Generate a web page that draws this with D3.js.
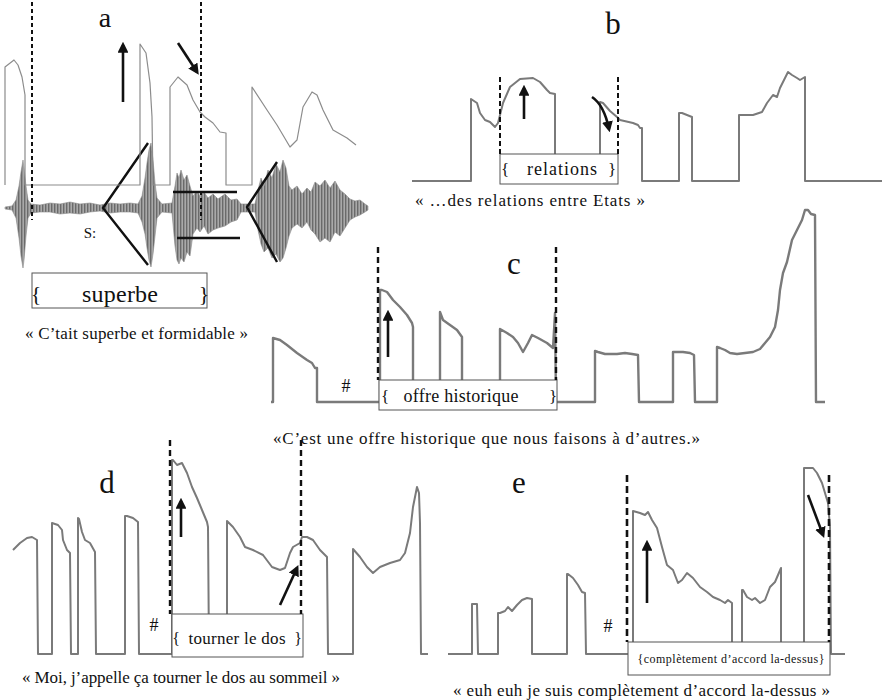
<!DOCTYPE html>
<html>
<head>
<meta charset="utf-8">
<script src="https://cdn.jsdelivr.net/npm/d3@7"></script>
<style>
  body { margin: 0; background: #fff; }
</style>
</head>
<body>
<div id="fig"></div>
<script>
// pitch contours, [time, F0 above floor] in panel units; F0 = 0 is the unvoiced floor
const contourA = [[5,0],[5,118],[14,125],[18,120],[22,108],[25,90],[25,0],
  [140,0],[140,141],[146,132],[150,102],[152,68],[153,0],
  [170,0],[170,98],[178,108],[187,100],[193,85],[200,73],[205,68],[213,62],[220,53],[226,52],[226,0],
  [252,0],[252,98],[267,75],[277,60],[290,38],[297,45],[303,78],[312,93],[317,90],[323,75],[333,55],[347,47],[356,40]];

const contourB = [[12,0],[71,0],[71,82],[77,78],[80,68],[85,61],[90,59],[95,54],[98,58],[103,78],[110,94],[120,102],[133,103],[140,99],[147,91],[150,88],[155,87],[155,0],
  [200,0],[200,79],[203,78],[210,70],[217,64],[220,61],[233,58],[238,56],[240,53],[242,53],[242,0],
  [279,0],[279,68],[282,68],[287,66],[292,64],[292,0],
  [339,0],[339,66],[343,66],[353,66],[362,69],[367,78],[373,86],[377,84],[380,93],[385,103],[388,109],[392,106],[397,103],[400,101],[405,104],[405,0],
  [482,0]];

const contourC = [[11,0],[13,0],[13,64],[20,62],[27,57],[37,49],[47,42],[52,39],[55,34],[57,34],[57,0],
  [120,0],[120,112],[122,112],[127,110],[133,102],[140,95],[147,87],[152,79],[153,75],[153,0],
  [180,0],[180,90],[183,82],[190,77],[197,72],[202,65],[202,0],
  [240,0],[240,73],[247,69],[253,65],[258,59],[263,50],[268,59],[272,67],[278,64],[287,59],[293,54],[295,89],[296,0],
  [335,0],[335,51],[338,50],[345,48],[357,48],[365,49],[372,48],[378,47],[379,0],
  [413,0],[413,50],[415,50],[423,50],[430,49],[434,47],[435,0],
  [457,0],[457,55],[460,54],[465,52],[470,49],[477,48],[485,49],[493,50],[500,53],[505,59],[510,65],[515,75],[518,92],[520,112],[523,129],[527,140],[532,162],[537,172],[542,182],[545,192],[548,192],[551,188],[555,187],[556,0],[565,0]];

const contourD = [[13,104],[20,111],[27,116],[32,117],[37,114],[38,0],
  [52,0],[52,131],[58,129],[62,124],[63,114],[67,104],[70,101],[71,0],
  [78,0],[78,136],[79,135],[82,122],[85,114],[90,111],[95,102],[96,0],
  [125,0],[125,138],[127,138],[133,136],[138,132],[139,0],
  [172,0],[172,194],[173,194],[177,189],[182,191],[187,181],[192,167],[197,156],[202,144],[207,132],[208,127],[209,0],
  [227,0],[227,133],[233,127],[240,117],[245,107],[253,104],[263,99],[272,87],[280,84],[285,86],[290,101],[293,107],[300,111],[302,117],[307,117],[313,114],[320,104],[327,97],[328,0],
  [353,0],[353,105],[360,97],[367,87],[373,81],[380,87],[390,91],[400,94],[405,101],[410,121],[413,147],[417,167],[419,161],[420,131],[421,0],[428,0]];

const contourE = [[8,0],[32,0],[32,50],[37,50],[38,0],
  [58,0],[58,41],[60,41],[65,43],[68,47],[72,43],[77,49],[82,54],[87,56],[92,55],[92,0],
  [127,0],[127,80],[128,80],[133,76],[138,69],[142,62],[145,61],[146,0],
  [193,0],[193,143],[200,141],[205,139],[208,142],[212,134],[217,126],[222,107],[227,89],[233,84],[238,71],[242,74],[247,81],[253,76],[260,67],[267,62],[273,57],[280,54],[285,51],[288,54],[292,51],[292,0],
  [302,0],[302,64],[303,64],[307,57],[312,54],[315,56],[320,51],[325,54],[330,67],[335,72],[338,79],[341,86],[341,0],
  [364,0],[364,186],[365,186],[373,186],[377,181],[382,171],[385,161],[388,151],[390,127],[391,0],[405,0]];

// oscillogram envelope for panel a: [time, upper amplitude, lower amplitude]
const waveA = [[5,1,1],[12,2,2],[16,8,10],[19,22,30],[21,36,48],[23,48,60],[24,40,52],[26,22,28],[28,8,10],[31,4,5],
  [40,3,4],[50,5,4],[60,4,6],[70,6,5],[80,4,6],[90,5,4],[100,3,3],[110,5,5],[120,4,4],[130,5,4],[138,4,5],
  [142,12,14],[145,30,26],[147,45,40],[149,58,52],[151,65,59],[153,48,46],[155,25,28],[157,10,10],[162,4,4],[172,5,5],
  [175,22,38],[177,35,52],[179,30,56],[181,38,50],[184,28,54],[187,33,44],[190,22,48],[193,12,26],[197,17,20],[200,12,24],
  [204,16,18],[208,10,26],[213,14,22],[218,9,20],[225,14,18],[231,8,14],[237,9,12],[241,4,4],[255,4,4],
  [258,18,22],[261,30,36],[264,22,44],[268,38,40],[272,30,50],[276,44,46],[280,36,54],[283,48,50],[286,40,40],[289,22,28],
  [292,18,20],[297,22,16],[302,14,20],[307,20,14],[311,16,22],[315,26,26],[320,22,34],[325,28,30],[330,20,34],[335,27,24],
  [340,18,28],[345,14,20],[350,9,12],[355,7,9],[360,8,7],[365,4,4],[368,2,2]];

// unit boundaries (times) marked by dashed lines
const boundsA = [32, 201];
const boundsB = [100, 218];
const boundsC = [118, 296];
const boundsD = [170, 301];
const boundsE = [187, 389];

// arrows: [t1, f1, t2, f2] or curved [t1, f1, tc, fc, t2, f2]
const arrowsA = [[123,83,123,140],[178,142,197,113]];
const arrowsB = [[124,62,124,93],[192,84,204,76,209,52]];
const arrowsC = [[128,45,128,89]];
const arrowsD = [[181,117,181,153],[280,49,297,86]];
const arrowsE = [[207,51,207,111],[368,159,383,119]];

// lines marking the oscillogram in panel a: [t1, a1, t2, a2, ...] in amplitude units
const marksA = [[148,65,103,0,148,-57],[277,46,247,1,277,-54],[173,16,237,16],[177,-30,240,-30]];

const captions = [
  '« C’tait superbe et formidable »',
  '« …des relations entre Etats »',
  '«C’est une offre historique que nous faisons à d’autres.»',
  '« Moi, j’appelle ça tourner le dos au sommeil »',
  '« euh euh je suis complètement d’accord la-dessus »'
];
const boxTexts = ['superbe', 'relations', 'offre historique', 'tourner le dos', '{complètement d’accord la-dessus}'];
const letters = ['a', 'b', 'c', 'd', 'e'];

const width = 882, height = 700;
const serif = 'Liberation Serif';

const svg = d3.select('#fig').append('svg')
  .attr('width', width)
  .attr('height', height)
  .attr('font-family', serif);

const defs = svg.append('defs');

defs.append('marker')
  .attr('id', 'head')
  .attr('viewBox', '0 0 10 10')
  .attr('refX', 7)
  .attr('refY', 5)
  .attr('markerWidth', 4.2)
  .attr('markerHeight', 4.2)
  .attr('orient', 'auto')
  .append('path')
  .attr('d', 'M0,0 L10,5 L0,10 Z')
  .attr('fill', '#111');

// striped fill so the envelope reads like an oscillogram
const pat = defs.append('pattern')
  .attr('id', 'osc')
  .attr('patternUnits', 'userSpaceOnUse')
  .attr('width', 3)
  .attr('height', 4);
pat.append('rect').attr('width', 3).attr('height', 4).attr('fill', '#a9a9a9');
pat.append('rect').attr('width', 1.4).attr('height', 4).attr('fill', '#6a6a6a');

function addText(g, x, y, size, str, anchor, len) {
  const t = g.append('text')
    .attr('x', x).attr('y', y)
    .attr('text-anchor', anchor || 'start')
    .attr('font-size', size)
    .attr('font-family', serif)
    .attr('fill', '#111')
    .text(str);
  if (len) t.attr('textLength', len).attr('lengthAdjust', 'spacing');
  return t;
}

function drawPanel(L, contour, bounds, arrows, i) {
  const x = d3.scaleLinear().domain([0, 100]).range([L.x0, L.x0 + 100]);
  const y = d3.scaleLinear().domain([0, 100]).range([L.base, L.base - 100]);
  const g = svg.append('g');

  const line = d3.line().x(d => x(d[0])).y(d => y(d[1]));

  //contour
  g.append('path')
    .datum(contour)
    .attr('d', line)
    .attr('fill', 'none')
    .attr('stroke', L.stroke)
    .attr('stroke-width', L.sw)
    .attr('stroke-linejoin', 'round');

  //label box
  g.append('rect')
    .attr('x', L.box[0]).attr('y', L.box[1])
    .attr('width', L.box[2]).attr('height', L.box[3])
    .attr('fill', '#fff')
    .attr('stroke', '#555')
    .attr('stroke-width', 1);

  addText(g, L.boxText[0], L.boxText[1], L.boxText[2], boxTexts[i], 'middle', L.boxText[3]);

  if (L.braces) {
    L.braces.forEach((b, k) => addText(g, b[0], b[1], b[2], k === 0 ? '{' : '}', 'middle'));
  }

  //dashed boundaries
  bounds.forEach(t => {
    g.append('line')
      .attr('x1', x(t)).attr('x2', x(t))
      .attr('y1', L.dash[0]).attr('y2', L.dash[1])
      .attr('stroke', '#111')
      .attr('stroke-width', L.dw)
      .attr('stroke-dasharray', L.dashArray);
  });

  //arrows
  arrows.forEach(a => {
    let d;
    if (a.length === 4) {
      d = 'M' + x(a[0]) + ',' + y(a[1]) + 'L' + x(a[2]) + ',' + y(a[3]);
    } else {
      d = 'M' + x(a[0]) + ',' + y(a[1]) + 'Q' + x(a[2]) + ',' + y(a[3]) + ' ' + x(a[4]) + ',' + y(a[5]);
    }
    g.append('path')
      .attr('d', d)
      .attr('fill', 'none')
      .attr('stroke', '#111')
      .attr('stroke-width', 2.6)
      .attr('marker-end', 'url(#head)');
  });

  if (L.hash) addText(g, L.hash[0], L.hash[1], 18, '#', 'middle');

  addText(g, L.letter[0], L.letter[1], L.letter[2], letters[i], 'middle');
  addText(g, L.caption[0], L.caption[1], 17, captions[i], 'start', L.caption[2]);

  return g;
}

const layoutA = { x0: 0, base: 185, stroke: '#8c8c8c', sw: 1.2, box: [32, 273, 175, 35], boxText: [120, 302, 24, 76],
  braces: [[36, 301, 22], [204, 301, 22]], dash: [2, 220], dw: 2, dashArray: '4,3', letter: [105, 27, 28], caption: [25, 339, 223] };
const layoutB = { x0: 400, base: 181, stroke: '#7a7a7a', sw: 2, box: [500, 154, 118, 30], boxText: [562, 175, 18, 70],
  braces: [[505, 175, 17], [612, 175, 17]], dash: [77, 154], dw: 2, dashArray: '5,3', letter: [613, 34, 31], caption: [415, 206, 230] };
const layoutC = { x0: 260, base: 402, stroke: '#7a7a7a', sw: 2.4, box: [379, 380, 178, 30], boxText: [461, 402, 18, 115],
  braces: [[385, 402, 17], [553, 402, 17]], dash: [247, 380], dw: 2.4, dashArray: '6,4', letter: [514, 274, 31], caption: [273, 444, 427], hash: [346, 392] };
const layoutD = { x0: 0, base: 654, stroke: '#7a7a7a', sw: 2, box: [172, 614, 131, 43], boxText: [237, 644, 17, 97],
  braces: [[176, 644, 16], [298, 644, 16]], dash: [440, 614], dw: 2.4, dashArray: '6,4', letter: [107, 493, 31], caption: [22, 683, 318], hash: [154, 631] };
const layoutE = { x0: 440, base: 654, stroke: '#7a7a7a', sw: 2, box: [628, 642, 202, 33], boxText: [731, 663, 12, 187],
  dash: [475, 642], dw: 2.6, dashArray: '7,4', letter: [519, 493, 31], caption: [453, 696, 377], hash: [608, 632] };

// panel a: oscillogram first, under the contour
const xa = d3.scaleLinear().domain([0, 100]).range([0, 100]);
const wa = d3.scaleLinear().domain([-100, 100]).range([308, 108]);

svg.append('path')
  .datum(waveA)
  .attr('d', d3.area().x(d => xa(d[0])).y0(d => wa(-d[2])).y1(d => wa(d[1])))
  .attr('fill', 'url(#osc)')
  .attr('stroke', '#8a8a8a')
  .attr('stroke-width', 0.6);

marksA.forEach(m => {
  const pts = d3.range(0, m.length, 2).map(k => [m[k], m[k + 1]]);
  svg.append('path')
    .datum(pts)
    .attr('d', d3.line().x(d => xa(d[0])).y(d => wa(d[1])))
    .attr('fill', 'none')
    .attr('stroke', '#111')
    .attr('stroke-width', 2.4);
});

addText(svg, 90, 238, 15, 'S:', 'middle');

drawPanel(layoutA, contourA, boundsA, arrowsA, 0);
drawPanel(layoutB, contourB, boundsB, arrowsB, 1);
drawPanel(layoutC, contourC, boundsC, arrowsC, 2);
drawPanel(layoutD, contourD, boundsD, arrowsD, 3);
drawPanel(layoutE, contourE, boundsE, arrowsE, 4);
</script>
</body>
</html>
